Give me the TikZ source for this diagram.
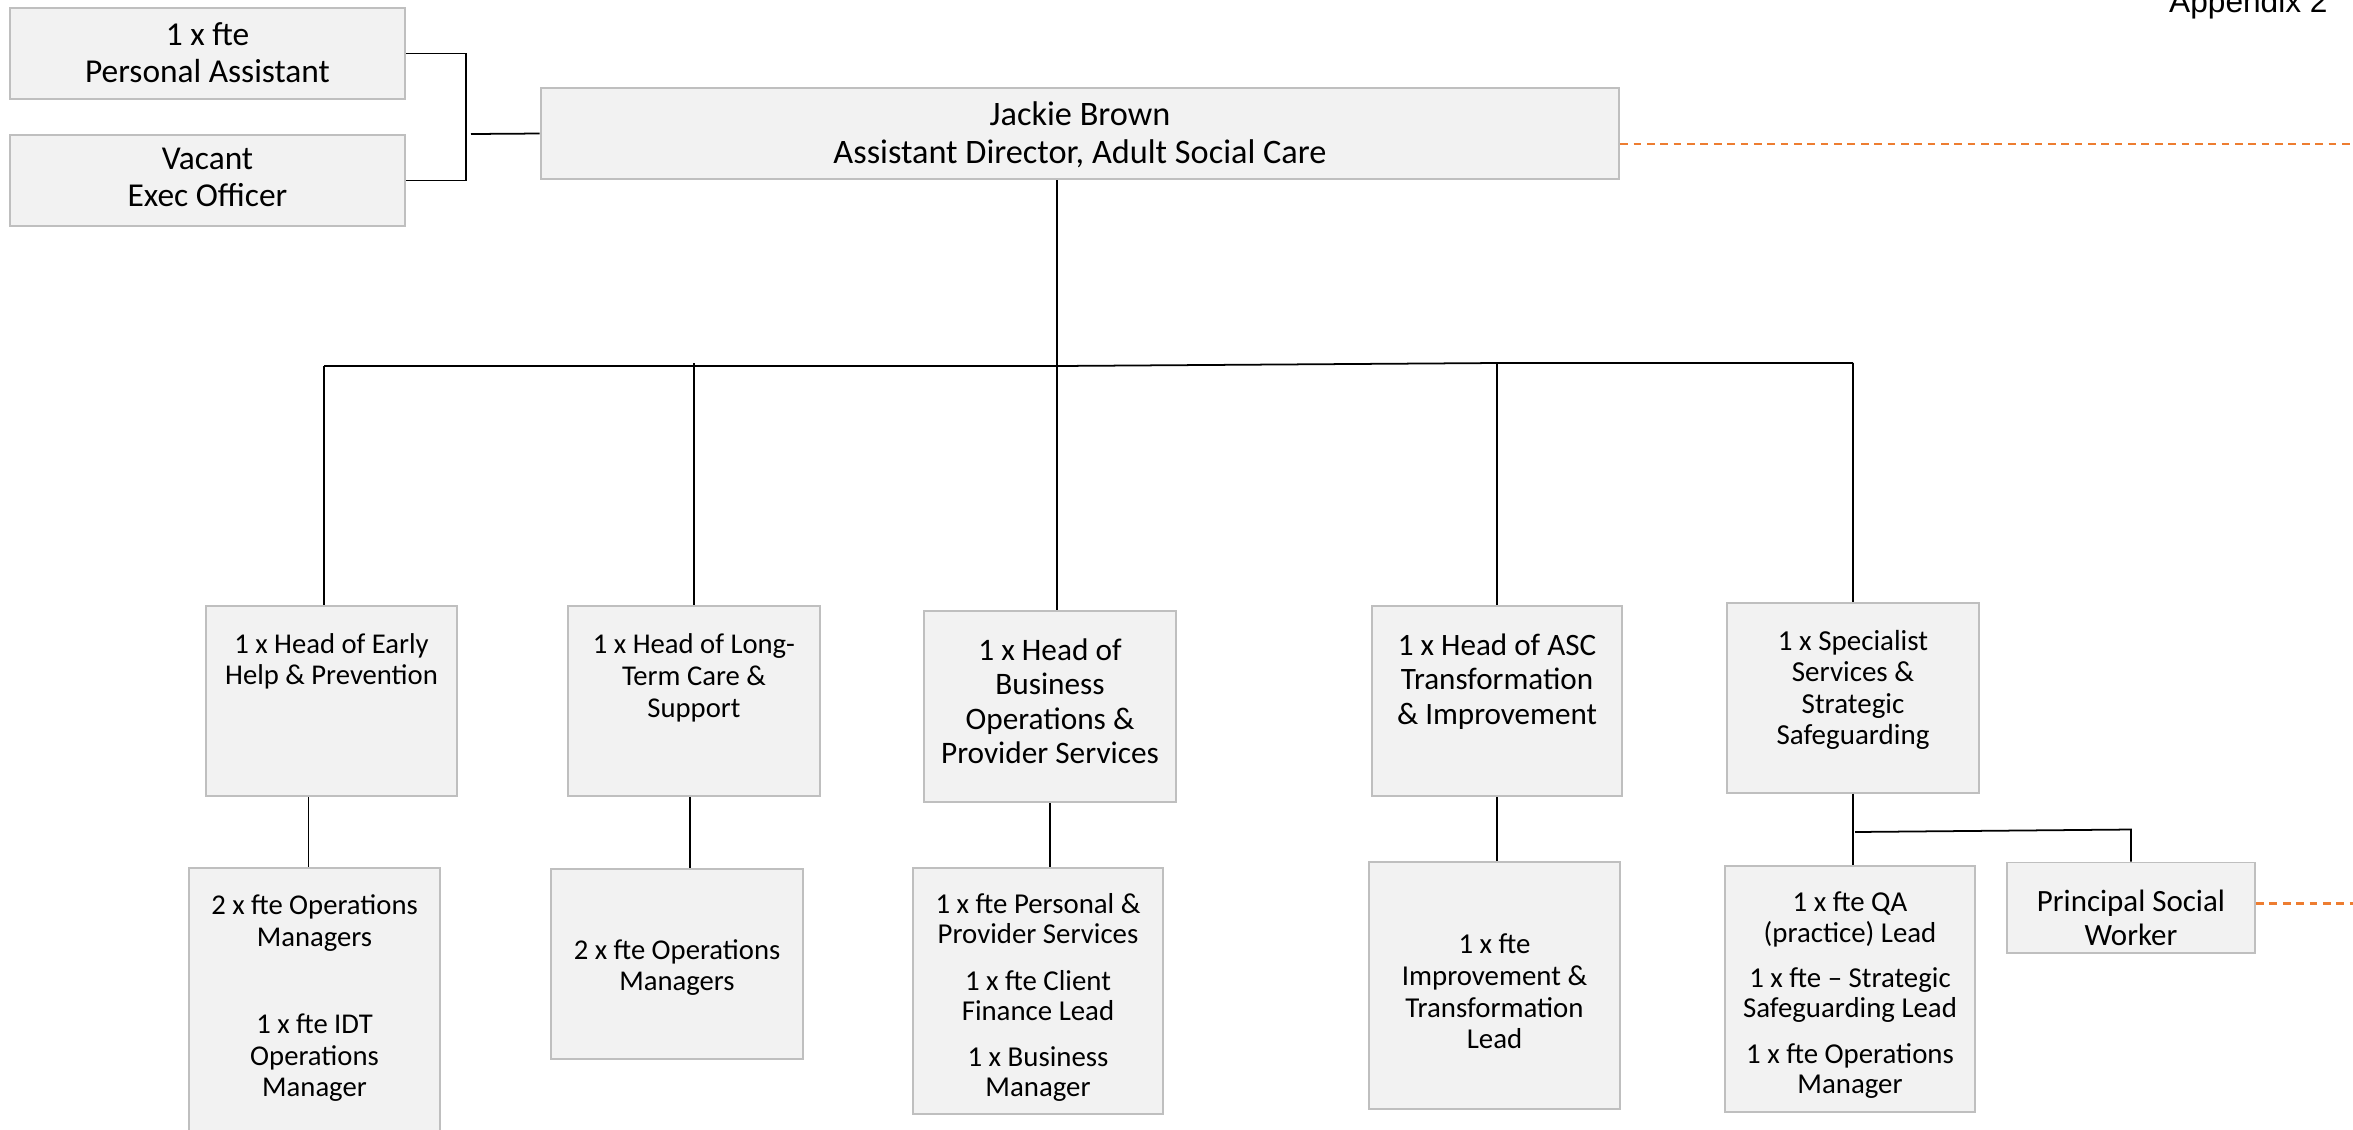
\documentclass[tikz,border=0pt]{standalone}
\usepackage{fontspec}
\setmainfont{Carlito}
\newfontfamily\appfont{Liberation Sans}
\usepackage{tikz}
\definecolor{Post}{HTML}{F2F2F2}
\definecolor{PostLine}{HTML}{BFBFBF}
\definecolor{Dotted}{HTML}{ED7D31}

\begin{document}
\begin{tikzpicture}[x=0.01cm,y=-0.01cm,
  post/.style={draw=PostLine,fill=Post,line width=0.55pt,inner sep=0pt},
  txt/.style={align=center,inner sep=0pt,anchor=base},
  link/.style={line width=0.5pt},
  dotlink/.style={Dotted,line width=0.8pt,dash pattern=on 2.2pt off 1.6pt}]

\useasboundingbox (0,0) rectangle (2353,1129);
\clip (0,0) rectangle (2353,1129);

\node [anchor=base east,font=\appfont\fontsize{9}{10}\selectfont] (app) at (2340,12) {Appendix 2};

% top row
\node [post,minimum width=39.5mm,minimum height=9.1mm] (pa) at (207.5,53.5) {};
\node [post,minimum width=39.5mm,minimum height=9.1mm] (exec) at (207.5,180.5) {};
\node [post,minimum width=107.8mm,minimum height=9.1mm] (dir) at (1080,133.5) {};

\node [txt,font=\fontsize{9.5}{10.5}\selectfont] (paT) at (207.5,82) {1 x fte\\Personal Assistant};
\node [txt,font=\fontsize{9.5}{10.25}\selectfont] (execT) at (207.5,206) {Vacant\\Exec Officer};
\node [txt,font=\fontsize{9.75}{10.8}\selectfont] (dirT) at (1080,163) {Jackie Brown\\Assistant Director, Adult Social Care};

% heads
\node [post,minimum width=25.1mm,minimum height=18.95mm] (help) at (331.5,701.25) {};
\node [post,minimum width=25.2mm,minimum height=18.95mm] (ltc) at (694,701.25) {};
\node [post,minimum width=25.2mm,minimum height=19.1mm] (bus) at (1050,706.85) {};
\node [post,minimum width=25.0mm,minimum height=18.95mm] (asc) at (1497,701.25) {};
\node [post,minimum width=25.2mm,minimum height=19.0mm] (spec) at (1853,697.7) {};

\node [txt,font=\fontsize{8.15}{8.82}\selectfont] (helpT) at (331.5,684.5) {1 x Head of Early\\Help \& Prevention};
\node [txt,font=\fontsize{8.15}{9.03}\selectfont] (ltcT) at (694,717.1) {1 x Head of Long-\\Term Care \&\\Support};
\node [txt,font=\fontsize{8.9}{9.79}\selectfont] (busT) at (1050,763.5) {1 x Head of\\Business\\Operations \&\\Provider Services};
\node [txt,font=\fontsize{8.85}{9.77}\selectfont] (ascT) at (1497,724) {1 x Head of ASC\\Transformation\\\& Improvement};
\node [txt,font=\fontsize{8.25}{8.96}\selectfont] (specT) at (1853,744.6) {1 x Specialist\\Services \&\\Strategic\\Safeguarding};

% teams
\node [post,minimum width=25.1mm,minimum height=28.2mm] (helpops) at (314.5,1009) {};
\node [post,minimum width=25.2mm,minimum height=18.96mm] (ltcops) at (677,964.2) {};
\node [post,minimum width=25.0mm,minimum height=24.56mm] (busops) at (1038,991.2) {};
\node [post,minimum width=25.1mm,minimum height=24.67mm] (ascops) at (1494.5,985.55) {};
\node [post,minimum width=25.0mm,minimum height=24.6mm] (qaops) at (1850,988.6) {};
\node [post,minimum width=24.8mm,minimum height=9.07mm] (psw) at (2131,907.85) {};

\node [txt,font=\fontsize{8.15}{9}\selectfont] (helpopsT) at (314.5,1096.9) {2 x fte Operations\\Managers\\[15.9pt]1 x fte IDT\\Operations\\Manager};
\node [txt,font=\fontsize{8.15}{8.8}\selectfont] (ltcopsT) at (677,990.3) {2 x fte Operations\\Managers};
\node [txt,font=\fontsize{8.2}{8.6}\selectfont] (busopsT) at (1038,1096.9) {1 x fte Personal \&\\Provider Services\\[4.55pt]1 x fte Client\\Finance Lead\\[4.55pt]1 x Business\\Manager};
\node [txt,font=\fontsize{8.2}{9.03}\selectfont] (ascopsT) at (1494.5,1048.8) {1 x fte\\Improvement \&\\Transformation\\Lead};
\node [txt,font=\fontsize{8.2}{8.65}\selectfont] (qaopsT) at (1850,1093.4) {1 x fte QA\\(practice) Lead\\[4.2pt]1 x fte – Strategic\\Safeguarding Lead\\[4.2pt]1 x fte Operations\\Manager};
\node [txt,font=\fontsize{8.8}{9.79}\selectfont] (pswT) at (2131,945.7) {Principal Social\\Worker};

% connectors
\coordinate (brk) at (466,134);
\coordinate (stub) at (471,134);
\draw [link] (pa.east) -| (brk) |- (exec.east);
\draw [link] (stub) -- (dir.west);

\coordinate (edgeA) at (2353,144);
\draw [dotlink] (dir.east |- edgeA) -- (edgeA);

\coordinate (trunk) at (1057,366);
\coordinate (barL) at (324,366);
\coordinate (barK) at (1497,363);
\coordinate (barR) at (1853,363);
\draw [link] (dir.south -| trunk) -- (bus.north -| trunk);
\draw [link] (barL) -- (trunk) -- (barK) -- (barR);
\draw [link] (barL) -- (barL |- help.north);
\draw [link] (ltc.north |- barK) -- (ltc.north);
\draw [link] (barK) -- (asc.north);
\draw [link] (barR) -- (spec.north);

\coordinate (dropA) at (308.5,0);
\coordinate (dropB) at (690,0);
\draw [link] (help.south -| dropA) -- (helpops.north -| dropA);
\draw [link] (ltc.south -| dropB) -- (ltcops.north -| dropB);
\draw [link] (bus.south) -- (bus.south |- busops.north);
\draw [link] (asc.south) -- (asc.south |- ascops.north);
\draw [link] (spec.south) -- (spec.south |- qaops.north);

\coordinate (fork) at (1855,832);
\coordinate (forkR) at (2131,829.5);
\draw [link] (fork) -- (forkR) -- (psw.north);

\coordinate (edgeB) at (2353,903.4);
\draw [dotlink] (psw.east |- edgeB) -- (edgeB);

\end{tikzpicture}
\end{document}
